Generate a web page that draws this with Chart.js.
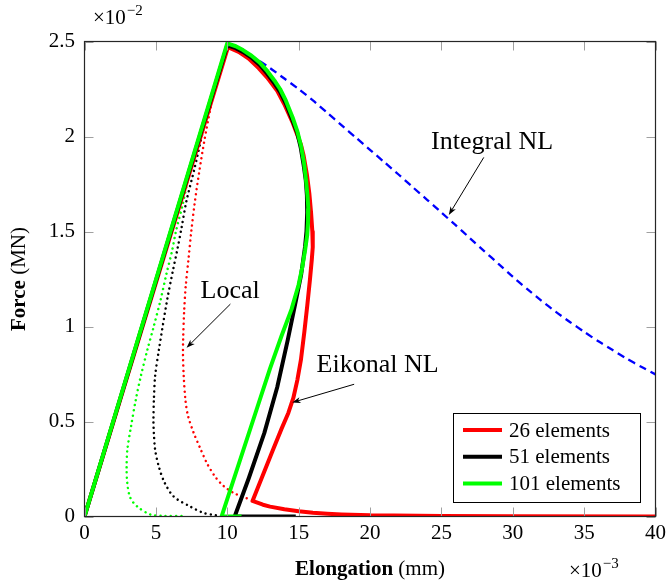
<!DOCTYPE html>
<html>
<head>
<meta charset="utf-8">
<script src="https://cdn.jsdelivr.net/npm/chart.js@4.4.1/dist/chart.umd.min.js"></script>
<style>
  html, body { margin: 0; padding: 0; background: #fff; }
  #wrap { width: 670px; height: 583px; }
</style>
</head>
<body>
<div id="wrap"><canvas id="myChart" width="670" height="583"></canvas></div>
<script>
// elongation in 1e-3 mm, force in 1e-2 MN (as the axes show)
const xTicks = [0, 5, 10, 15, 20, 25, 30, 35, 40];
const yTicks = [0, 0.5, 1, 1.5, 2, 2.5];

// Eikonal NL, solid
const elong26 = [0, 10.05, 10.8, 11.5, 12.2, 12.8, 13.5, 14.0, 14.6, 15.15, 15.35, 15.58, 15.75, 15.87, 15.96, 15.99, 15.92, 15.79, 15.61, 15.4, 15.16, 14.91, 14.63, 14.28, 13.8, 13.17, 12.47, 11.77,
    12.5, 13, 14, 15, 16, 17, 18, 20, 25, 30, 40];
const force26 = [0, 2.47, 2.445, 2.41, 2.36, 2.31, 2.24, 2.17, 2.07, 1.96, 1.9, 1.8, 1.7, 1.6, 1.5, 1.418, 1.35, 1.245, 1.113, 0.971, 0.824, 0.718, 0.624, 0.545, 0.461, 0.345, 0.213, 0.082,
    0.062, 0.052, 0.038, 0.028, 0.02, 0.015, 0.011, 0.006, 0.002, 0.001, 0];
const elong51 = [0, 10, 10.6, 11.1, 11.7, 12.3, 12.8, 13.3, 13.7, 14.1, 14.55, 14.9, 15.15, 15.35, 15.5, 15.58, 15.6, 15.55, 15.45, 15.17, 14.82, 14.24, 13.5, 12.6, 11.5, 10.52, 14.8];
const force51 = [0, 2.48, 2.465, 2.445, 2.415, 2.375, 2.33, 2.28, 2.235, 2.175, 2.09, 2.02, 1.94, 1.85, 1.77, 1.69, 1.6, 1.5, 1.42, 1.27, 1.14, 0.93, 0.68, 0.44, 0.2, 0, 0];
const elong101 = [0, 10, 10.6, 11.1, 11.7, 12.26, 12.8, 13.3, 13.7, 14.1, 14.58, 14.9, 15.17, 15.38, 15.52, 15.62, 15.68, 15.66, 15.6, 15.45, 15.25, 15.0, 14.5, 13.8, 13.0, 12.0, 9.6, 11.0];
const force101 = [0, 2.49, 2.475, 2.455, 2.425, 2.39, 2.345, 2.295, 2.25, 2.19, 2.10, 2.03, 1.95, 1.86, 1.77, 1.69, 1.62, 1.55, 1.48, 1.40, 1.31, 1.22, 1.09, 0.95, 0.78, 0.55, 0, 0];

// Local, dotted
const elongLoc26 = [9.2, 8.8, 8.4, 8.05, 7.72, 7.48, 7.28, 7.1, 6.98, 6.91, 6.9, 6.95, 7.07, 7.25, 7.66, 8.1, 8.58, 9.15, 9.75, 10.5, 11.4];
const forceLoc26 = [2.29, 2.14, 1.98, 1.82, 1.65, 1.5, 1.35, 1.22, 1.08, 0.93, 0.85, 0.74, 0.613, 0.53, 0.438, 0.36, 0.28, 0.21, 0.16, 0.122, 0.095];
const elongLoc51 = [8.6, 8.3, 7.7, 7.14, 6.8, 6.49, 6.21, 5.79, 5.21, 4.95, 4.86, 4.83, 4.86, 4.95, 5.21, 5.6, 6.26, 7.42, 8.3, 9.05, 9.5];
const forceLoc51 = [2.14, 2.03, 1.83, 1.66, 1.52, 1.40, 1.30, 1.14, 0.876, 0.74, 0.613, 0.5, 0.438, 0.35, 0.262, 0.18, 0.104, 0.052, 0.02, 0.008, 0.003];
const elongLoc101 = [7.4, 6.9, 6.4, 6.14, 5.75, 5.33, 4.85, 4.4, 3.95, 3.59, 3.25, 3.0, 2.95, 3.0, 3.2, 3.7, 4.63, 5.5, 7.0];
const forceLoc101 = [1.84, 1.65, 1.5, 1.40, 1.28, 1.14, 1.0, 0.876, 0.74, 0.613, 0.47, 0.35, 0.25, 0.175, 0.1, 0.052, 0.01, 0.003, 0.003];

// Integral NL, dashed
const elongInt = [10, 11, 12, 13, 14, 15, 16, 17, 18, 19, 20, 21, 22, 23, 24, 25, 26, 27, 28, 29, 30, 31, 32, 33, 34, 35, 36, 37, 38, 39, 40];
const forceInt = [2.49, 2.46, 2.41, 2.36, 2.305, 2.25, 2.19, 2.125, 2.06, 1.995, 1.93, 1.865, 1.80, 1.733, 1.667, 1.60, 1.533, 1.465, 1.397, 1.33,
    1.262, 1.198, 1.136, 1.078, 1.024, 0.972, 0.922, 0.876, 0.83, 0.788, 0.748];

// annotations: text centre/baseline, arrow start, arrow tip (data units)
const noteText = ['Integral NL', 'Local', 'Eikonal NL'];
const noteAt = [[28.55, 1.934], [10.2, 1.15], [20.53, 0.762]];
const arrowFrom = [[27.97, 1.89], [10.22, 1.118], [18.89, 0.696]];
const arrowTo = [[25.52, 1.587], [7.15, 0.888], [14.55, 0.6]];

const SERIF = "'Liberation Serif', 'DejaVu Serif', serif";

function pts(xs, ys) {
    return xs.map((x, i) => ({ x: x, y: ys[i] }));
}

function solid(label, xs, ys, color, order) {
    return { label: label, data: pts(xs, ys), borderColor: color, borderWidth: 4, order: order,
        showLine: true, pointRadius: 0, tension: 0, borderJoinStyle: 'round' };
}

function dotted(xs, ys, color) {
    return { label: '', data: pts(xs, ys), borderColor: color, borderWidth: 2.5, borderDash: [0.01, 5.2],
        borderCapStyle: 'round', order: 5, showLine: true, pointRadius: 0, tension: 0.3, legend: false };
}

const datasets = [
    solid('101 elements', elong101, force101, '#00ff00', 0),
    solid('51 elements', elong51, force51, '#000000', 1),
    solid('26 elements', elong26, force26, '#ff0000', 2),
    dotted(elongLoc101, forceLoc101, '#00ff00'),
    dotted(elongLoc51, forceLoc51, '#000000'),
    dotted(elongLoc26, forceLoc26, '#ff0000'),
    { label: '', data: pts(elongInt, forceInt), borderColor: '#0000ff', borderWidth: 2.3, borderDash: [7.5, 5],
        order: 6, showLine: true, pointRadius: 0, tension: 0.2, legend: false }
];

function arrow(ctx, x1, y1, x2, y2) {
    const a = Math.atan2(y2 - y1, x2 - x1);
    ctx.beginPath();
    ctx.moveTo(x1, y1);
    ctx.lineTo(x2 - 5 * Math.cos(a), y2 - 5 * Math.sin(a));
    ctx.stroke();
    ctx.beginPath();
    ctx.moveTo(x2, y2);
    ctx.lineTo(x2 - 9 * Math.cos(a - 0.35), y2 - 9 * Math.sin(a - 0.35));
    ctx.lineTo(x2 - 6 * Math.cos(a), y2 - 6 * Math.sin(a));
    ctx.lineTo(x2 - 9 * Math.cos(a + 0.35), y2 - 9 * Math.sin(a + 0.35));
    ctx.closePath();
    ctx.fill();
}

function mixedText(ctx, x, y, bold, normal) {
    ctx.font = "bold 21px " + SERIF;
    const w1 = ctx.measureText(bold).width;
    ctx.font = "21px " + SERIF;
    const w2 = ctx.measureText(normal).width;
    let left = x - (w1 + w2) / 2;
    ctx.textAlign = 'left';
    ctx.font = "bold 21px " + SERIF;
    ctx.fillText(bold, left, y);
    ctx.font = "21px " + SERIF;
    ctx.fillText(normal, left + w1, y);
}

function power(ctx, x, y, exp) {
    ctx.textAlign = 'left';
    ctx.font = "21px " + SERIF;
    ctx.fillText('\u00d710', x, y);
    const w = ctx.measureText('\u00d710').width;
    ctx.font = "15px " + SERIF;
    ctx.fillText(exp, x + w + 1, y - 9);
}

const decor = {
    id: 'decor',
    afterDraw(chart) {
        const ctx = chart.ctx;
        const area = chart.chartArea;
        const sx = chart.scales.x;
        const sy = chart.scales.y;
        ctx.save();

        // inward tick marks on all four sides
        ctx.strokeStyle = '#a0a0a0';
        ctx.lineWidth = 1;
        ctx.beginPath();
        sx.ticks.forEach((t) => {
            const px = Math.round(sx.getPixelForValue(t.value)) + 0.5;
            ctx.moveTo(px, area.bottom); ctx.lineTo(px, area.bottom - 9);
            ctx.moveTo(px, area.top); ctx.lineTo(px, area.top + 9);
        });
        sy.ticks.forEach((t) => {
            const py = Math.round(sy.getPixelForValue(t.value)) + 0.5;
            ctx.moveTo(area.left, py); ctx.lineTo(area.left + 9, py);
            ctx.moveTo(area.right, py); ctx.lineTo(area.right - 9, py);
        });
        ctx.stroke();

        // frame
        ctx.strokeStyle = '#262626';
        ctx.lineWidth = 1.2;
        ctx.strokeRect(area.left, area.top, area.right - area.left, area.bottom - area.top);

        // annotations
        ctx.fillStyle = '#000';
        ctx.strokeStyle = '#000';
        ctx.lineWidth = 1;
        ctx.textBaseline = 'alphabetic';
        ctx.textAlign = 'center';
        ctx.font = "26px " + SERIF;
        noteText.forEach((txt, i) => {
            ctx.fillText(txt, sx.getPixelForValue(noteAt[i][0]), sy.getPixelForValue(noteAt[i][1]));
            arrow(ctx,
                sx.getPixelForValue(arrowFrom[i][0]), sy.getPixelForValue(arrowFrom[i][1]),
                sx.getPixelForValue(arrowTo[i][0]), sy.getPixelForValue(arrowTo[i][1]));
        });

        // legend box
        const items = chart.data.datasets.filter((d) => d.legend !== false).reverse();
        const lx = 453, ly = 413, lw = 187, lh = 89;
        ctx.fillStyle = '#fff';
        ctx.fillRect(lx, ly, lw, lh);
        ctx.strokeStyle = '#000';
        ctx.lineWidth = 1;
        ctx.strokeRect(lx + 0.5, ly + 0.5, lw, lh);
        ctx.textAlign = 'left';
        ctx.textBaseline = 'middle';
        ctx.font = "21px " + SERIF;
        items.forEach((d, i) => {
            const ry = 430 + i * 26.7;
            ctx.strokeStyle = d.borderColor;
            ctx.lineWidth = 4;
            ctx.beginPath();
            ctx.moveTo(463, ry);
            ctx.lineTo(502, ry);
            ctx.stroke();
            ctx.fillStyle = '#000';
            ctx.fillText(d.label, 509, ry + 1);
        });

        // axis titles and exponents
        ctx.textBaseline = 'alphabetic';
        ctx.fillStyle = '#000';
        mixedText(ctx, (area.left + area.right) / 2, 575, 'Elongation', ' (mm)');
        ctx.save();
        ctx.translate(25, (area.top + area.bottom) / 2);
        ctx.rotate(-Math.PI / 2);
        mixedText(ctx, 0, 0, 'Force', ' (MN)');
        ctx.restore();
        power(ctx, 93, 24, '\u22122');
        power(ctx, 569, 577, '\u22123');

        ctx.restore();
    }
};

new Chart(document.getElementById('myChart'), {
    type: 'scatter',
    data: { datasets: datasets },
    options: {
        responsive: false,
        animation: false,
        layout: { padding: { top: 41.5, right: 12.5, left: 0, bottom: 0 } },
        plugins: { legend: { display: false }, tooltip: { enabled: false } },
        scales: {
            x: {
                type: 'linear', min: 0, max: 40,
                afterFit: (s) => { s.height = 66.5; },
                afterBuildTicks: (s) => { s.ticks = xTicks.map((v) => ({ value: v })); },
                grid: { display: false, drawTicks: false },
                border: { display: false },
                ticks: { padding: 4, color: '#000', font: { family: SERIF, size: 21 }, callback: (v) => String(v) }
            },
            y: {
                type: 'linear', min: 0, max: 2.5,
                afterFit: (s) => { s.width = 84.5; },
                afterBuildTicks: (s) => { s.ticks = yTicks.map((v) => ({ value: v })); },
                grid: { display: false, drawTicks: false },
                border: { display: false },
                ticks: { padding: 9.5, color: '#000', font: { family: SERIF, size: 21 }, callback: (v) => String(v) }
            }
        }
    },
    plugins: [decor]
});
</script>
</body>
</html>
